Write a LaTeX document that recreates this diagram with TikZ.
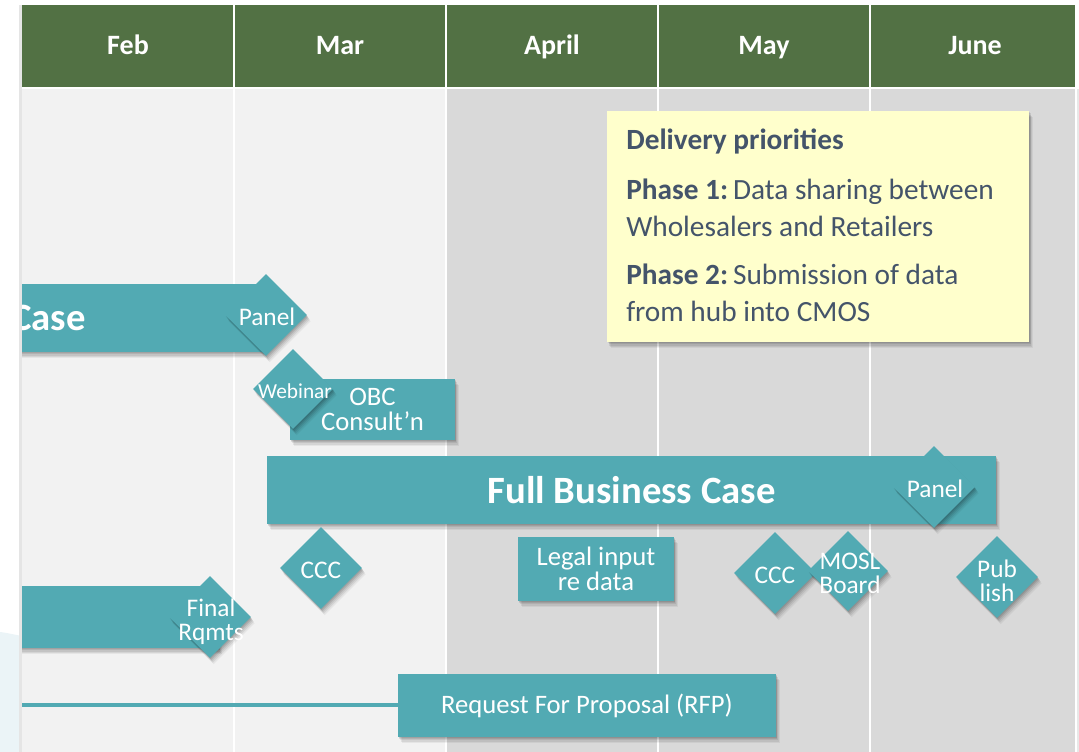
\documentclass[tikz,border=0pt]{standalone}
\usepackage{fontspec}
\setmainfont{Carlito}
\usetikzlibrary{shapes.geometric,shadows}
\definecolor{hdr}{RGB}{82,113,68}
\definecolor{tealbar}{RGB}{82,170,179}
\definecolor{lightbg}{RGB}{242,242,242}
\definecolor{darkbg}{RGB}{217,217,217}
\definecolor{notefill}{RGB}{255,255,204}
\definecolor{notetext}{RGB}{68,84,106}
\definecolor{paleblue}{RGB}{235,244,247}
\begin{document}
\begin{tikzpicture}[x=0.75pt,y=-0.75pt,
  shad/.style={
    drop shadow={shadow xshift=2.8pt,shadow yshift=-4.6pt,fill=black,opacity=0.05},
    drop shadow={shadow xshift=2.2pt,shadow yshift=-3.6pt,fill=black,opacity=0.07},
    drop shadow={shadow xshift=1.6pt,shadow yshift=-2.6pt,fill=black,opacity=0.08},
    drop shadow={shadow xshift=1.0pt,shadow yshift=-1.6pt,fill=black,opacity=0.09},
    drop shadow={shadow xshift=0.5pt,shadow yshift=-0.8pt,fill=black,opacity=0.09}},
  bar/.style={rectangle,fill=tealbar,draw=none,inner sep=0pt,shad},
  dia/.style={diamond,fill=tealbar,draw=none,inner sep=0pt,minimum width=61.5pt,minimum height=61.5pt,shad},
  dlbl/.style={text=white,inner sep=0pt,align=center,font=\fontsize{19}{18}\selectfont},
  blbl/.style={text=white,align=center,font=\fontsize{20}{18.5}\selectfont},
  hdrtxt/.style={text=white,inner sep=0pt,anchor=base,font=\fontsize{21}{24}\selectfont\bfseries},
  bigtxt/.style={text=white,inner sep=0pt,font=\fontsize{29}{32}\selectfont\bfseries},
  nt/.style={text=notetext,inner sep=0pt,anchor=base west,font=\fontsize{22}{26}\selectfont},
  sep/.style={white,line width=1.5pt}]
\useasboundingbox (0,0) rectangle (1079,752);
% background and table
\fill[white] (0,0) rectangle (1079,752);
\fill[paleblue] (0,632) .. controls (8,633) and (16,635) .. (22,636) -- (22,752) -- (0,752) -- cycle;
\fill[black!10] (19,5) rectangle (22,752);
\fill[hdr] (22,5) rectangle (1076,87);
\fill[lightbg] (22,89) rectangle (446,752);
\fill[darkbg] (446,89) rectangle (1076,752);
\fill[black!9] (1076,89) rectangle (1079,752);
\foreach \xx in {234,446,658,870,1076} \draw[sep] (\xx,5) -- (\xx,752);
\draw[sep] (22,88) -- (1076,88);
% month headers
\node[hdrtxt] (feb) at (128,55) {Feb};
\node[hdrtxt] (mar) at (340,55) {Mar};
\node[hdrtxt] (apr) at (552,55) {April};
\node[hdrtxt] (may) at (764,55) {May};
\node[hdrtxt] (jun) at (975,55) {June};
% note box
\node[fill=notefill,inner sep=0pt,minimum width=316.5pt,minimum height=173.25pt,anchor=north west,shad] (note) at (607,111) {};
\node[nt] (n1) at (626,150) {\textbf{Delivery priorities}};
\node[nt] (n2) at (626,200) {\textbf{Phase 1:}\,Data sharing between};
\node[nt] (n3) at (626,237) {Wholesalers and Retailers};
\node[nt] (n4) at (626,285) {\textbf{Phase 2:}\,Submission of data};
\node[nt] (n5) at (626,322) {from hub into CMOS};
% bars clipped at table edge
\begin{scope}
\clip (22,0) rectangle (1079,752);
\node[bar,minimum width=211.5pt,minimum height=51pt,anchor=north west] (obcbar) at (-20,284) {};
\node[bigtxt,anchor=base east] (caset) at (86,331) {Case};
\node[bar,minimum width=178.5pt,minimum height=46.5pt,anchor=north west] (finalbar) at (-20,586) {};
\coordinate (linestart) at (15,705);
\end{scope}
\node[dia] (panel1) at (266,315) {};
\node[dlbl] (panel1t) at (267,317) {Panel};
% OBC consultation
\node[bar,minimum width=123.75pt,minimum height=45.75pt,blbl] (obc) at (372.5,409.5) {OBC\\Consult’n};
\node[dia,minimum width=60pt,minimum height=60pt] (web) at (293,389) {};
\node[dlbl,font=\fontsize{16}{18}\selectfont] (webt) at (295,391) {Webinar};
% full business case
\node[bar,minimum width=546.75pt,minimum height=51pt,bigtxt] (fbc) at (631.5,490) {Full Business Case};
\node[dia] (panel2) at (934,487) {};
\node[dlbl] (panel2t) at (935,489) {Panel};
% milestones
\node[dia] (ccc1) at (321,568) {};
\node[dlbl] (ccc1t) at (321,570) {CCC};
\node[bar,minimum width=117pt,minimum height=48pt,blbl] (legal) at (596,569) {Legal input\\re data};
\node[dia] (ccc2) at (775,573) {};
\node[dlbl] (ccc2t) at (775,575) {CCC};
\node[dia,minimum width=60pt,minimum height=60pt] (mosl) at (848,571) {};
\node[dlbl] (moslt) at (850,573) {MOSL\\Board};
\node[dia] (pub) at (997,577) {};
\node[dlbl] (pubt) at (997,581) {Pub\\lish};
\node[dia] (final) at (210,617) {};
\node[dlbl] (finalt) at (211,622) {Final\\Rqmts};
% RFP
\begin{scope}
\clip (22,0) rectangle (1079,752);
\draw[tealbar,line width=2.8pt] (linestart) -- (398,705);
\end{scope}
\node[bar,minimum width=283.5pt,minimum height=47.25pt,blbl] (rfp) at (587,705.5) {Request For Proposal (RFP)};
\end{tikzpicture}
\end{document}
